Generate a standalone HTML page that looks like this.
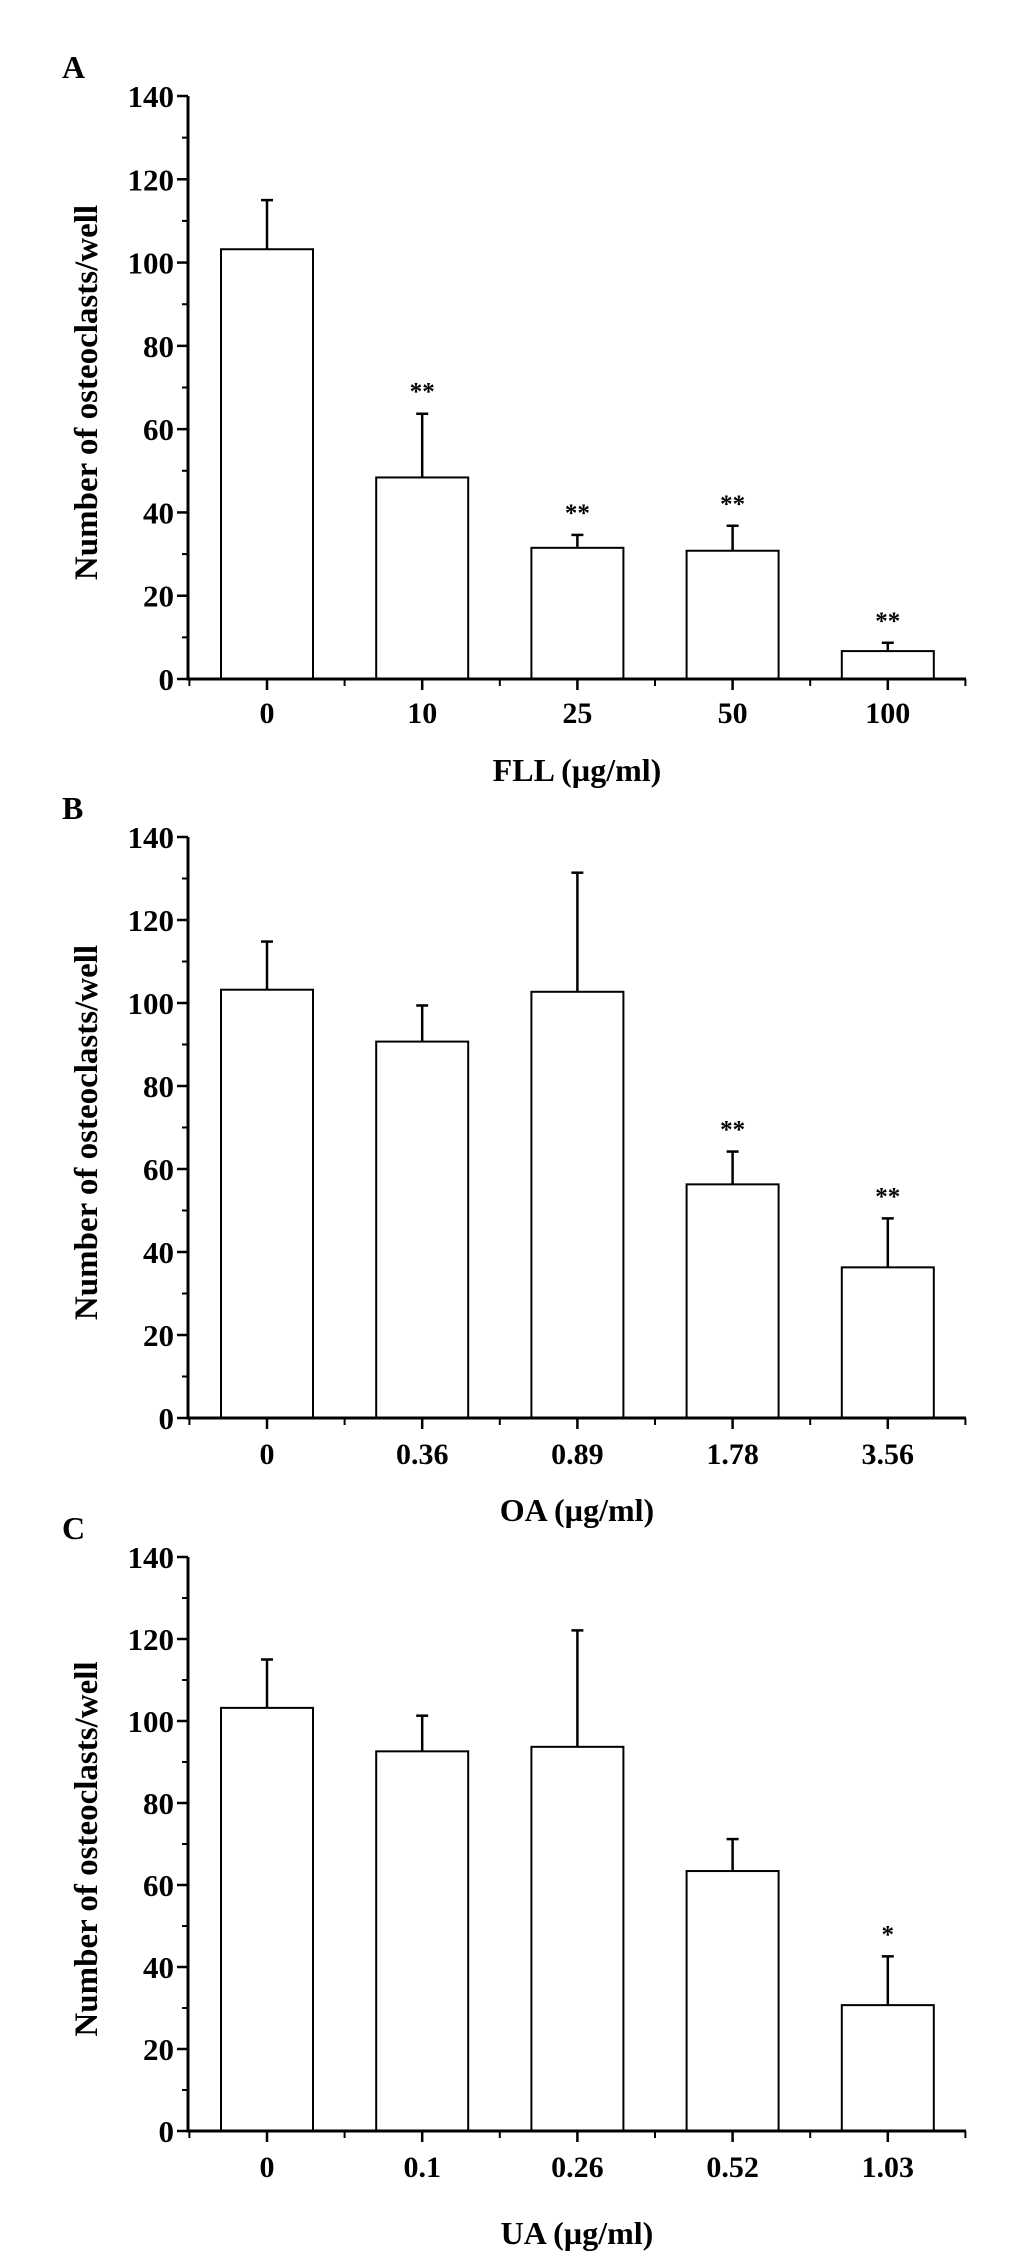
<!DOCTYPE html>
<html><head><meta charset="utf-8">
<style>
html,body{margin:0;padding:0;background:#fff;}
svg{display:block;}
text{font-family:"Liberation Serif","DejaVu Serif",serif;font-weight:bold;fill:#000;}
</style></head>
<body>
<svg id="fig" width="1033" height="2259" viewBox="0 0 1033 2259" xmlns="http://www.w3.org/2000/svg"></svg>
<script>
const catsA = ["0","10","25","50","100"];
const valsA = [103.2,48.4,31.5,30.8,6.7];
const errsA = [115,63.7,34.6,36.8,8.7];
const sigA = ["","**","**","**","**"];
const catsB = ["0","0.36","0.89","1.78","3.56"];
const valsB = [103.2,90.7,102.7,56.3,36.3];
const errsB = [114.8,99.4,131.4,64.2,48.1];
const sigB = ["","","","**","**"];
const catsC = ["0","0.1","0.26","0.52","1.03"];
const valsC = [103.2,92.6,93.7,63.4,30.7];
const errsC = [115,101.3,122.1,71.2,42.6];
const sigC = ["","","","","*"];
const yTicks = [0,20,40,60,80,100,120,140];
const NS="http://www.w3.org/2000/svg";
const svg=document.getElementById('fig');
function mk(tag,attrs,parent){const e=document.createElementNS(NS,tag);for(const k in attrs)e.setAttribute(k,attrs[k]);(parent||svg).appendChild(e);return e;}

function panel(letter,cats,vals,errs,sig,title,y0,y140,tickY,titleY,name){
  const g=mk('g',{});
  
  
  const xL=188,xR=966,step=155.2,first=267,bw=92;
  const ys=v=>y0-(v/140)*(y0-y140);
  const xs=i=>first+i*step;
  const L=mk('text',{x:62,y:y140-18,'font-size':32},g);L.textContent=letter;
  
  
  cats.forEach((c,i)=>{
    const cx=xs(i),top=ys(vals[i]),et=ys(errs[i]);
    const eb=mk('line',{x1:cx,y1:top,x2:cx,y2:et,stroke:'#000','stroke-width':2.5},g);
    
    
    const cap=mk('line',{x1:cx-6,y1:et,x2:cx+6,y2:et,stroke:'#000','stroke-width':2.5},g);
    
    
    const r=mk('rect',{x:cx-bw/2,y:top,width:bw,height:y0-top,fill:'#fff',stroke:'#000','stroke-width':2},g);
    
    
    if(sig[i]){
      const s=mk('text',{x:cx,y:et-14,'font-size':25,'text-anchor':'middle','font-weight':'normal'},g);
      s.textContent=sig[i];
      
      
    }
    const t=mk('text',{x:cx,y:tickY+11,'font-size':30,'text-anchor':'middle'},g);
    t.textContent=c;
    
    
    mk('line',{x1:cx,y1:y0,x2:cx,y2:y0+11,stroke:'#000','stroke-width':2.5},g);
    const mx=cx-step/2;
    mk('line',{x1:mx,y1:y0,x2:mx,y2:y0+7,stroke:'#000','stroke-width':2},g);
  });
  mk('line',{x1:xs(cats.length-1)+step/2,y1:y0,x2:xs(cats.length-1)+step/2,y2:y0+7,stroke:'#000','stroke-width':2},g);
  yTicks.forEach((v,i)=>{
    const y=ys(v);
    mk('line',{x1:xL-11,y1:y,x2:xL,y2:y,stroke:'#000','stroke-width':2.5},g);
    if(i<yTicks.length-1){const ym=ys(v+10);mk('line',{x1:xL-6,y1:ym,x2:xL,y2:ym,stroke:'#000','stroke-width':2},g);}
    const t=mk('text',{x:xL-14,y:y+11,'font-size':31,'text-anchor':'end'},g);
    t.textContent=v;
    
    
  });
  const ya=mk('line',{x1:xL,y1:y140,x2:xL,y2:y0+1.5,stroke:'#000','stroke-width':3},g);
  
  
  const xa=mk('line',{x1:xL-1.5,y1:y0,x2:xR,y2:y0,stroke:'#000','stroke-width':3},g);
  
  
  const yt=mk('text',{x:0,y:0,'font-size':33,'text-anchor':'middle',transform:`translate(97,${(y0+y140)/2+5}) rotate(-90)`},g);
  yt.textContent='Number of osteoclasts/well';
  
  
  const xt=mk('text',{x:577,y:titleY+11,'font-size':32,'text-anchor':'middle'},g);
  xt.textContent=title;
  
  
}
panel('A',catsA,valsA,errsA,sigA,'FLL (\u00b5g/ml)',679,96,712,770,'panel-a');
panel('B',catsB,valsB,errsB,sigB,'OA (\u00b5g/ml)',1418,837,1453,1510,'panel-b');
panel('C',catsC,valsC,errsC,sigC,'UA (\u00b5g/ml)',2131,1557,2166,2233,'panel-c');
</script>
</body></html>
